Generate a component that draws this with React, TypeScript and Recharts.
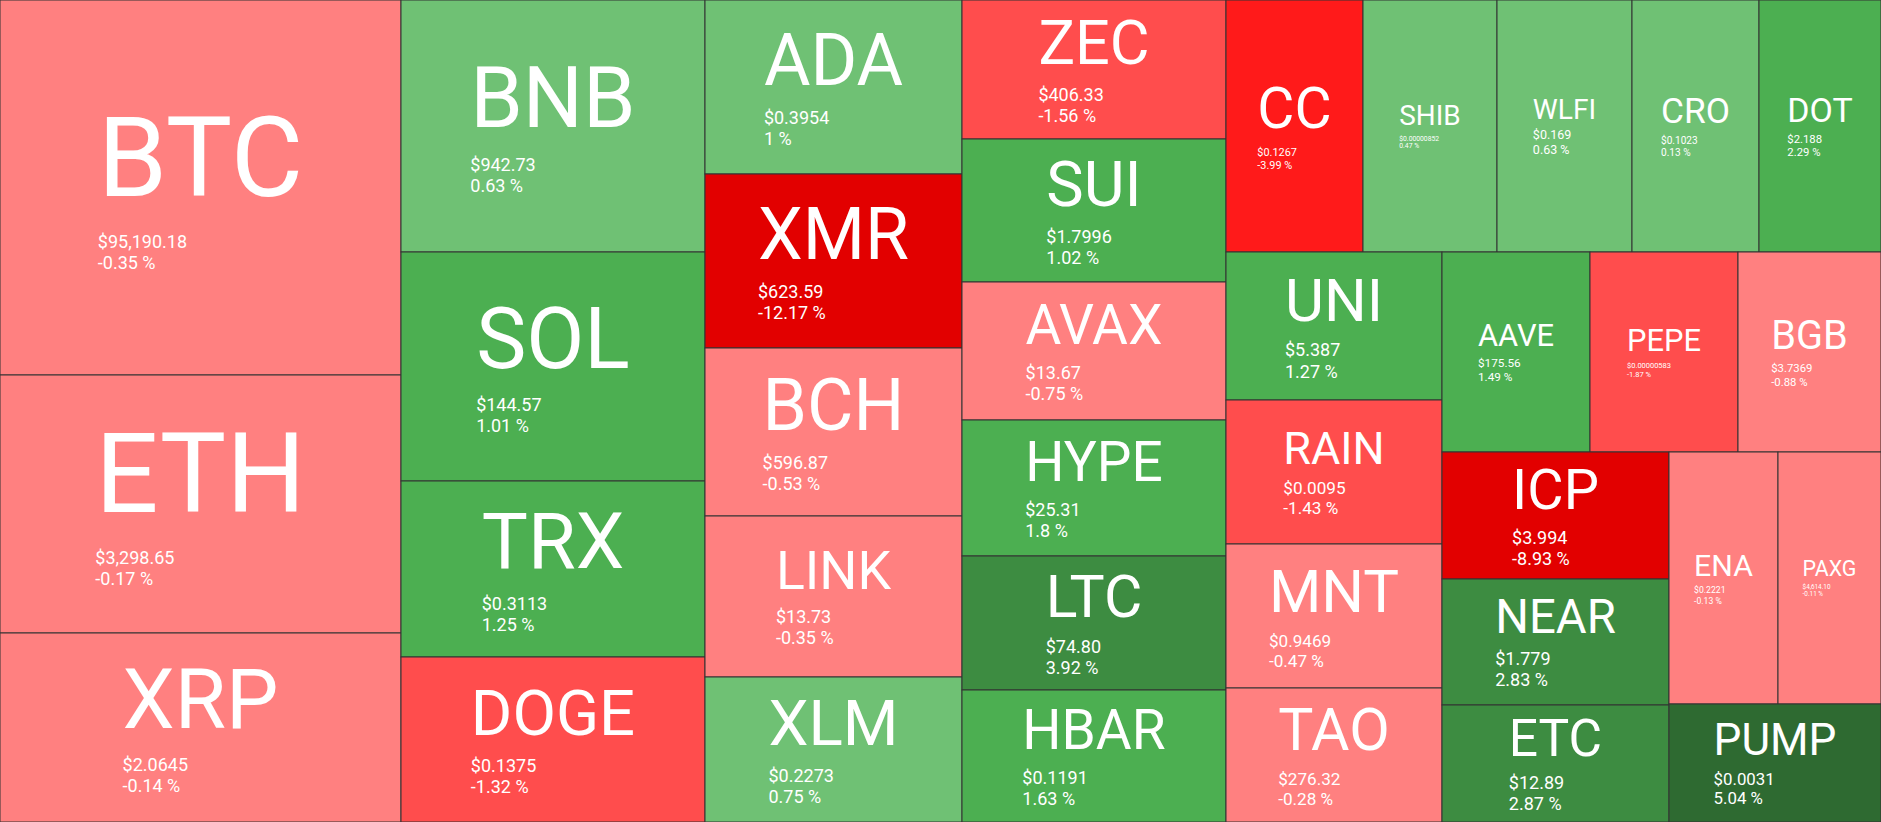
import React from 'react';
import { Treemap } from 'recharts';

const names = ['BTC', 'ETH', 'XRP', 'BNB', 'SOL', 'TRX', 'DOGE', 'ADA', 'XMR', 'BCH', 'LINK', 'XLM', 'ZEC', 'SUI', 'AVAX', 'HYPE', 'LTC', 'HBAR', 'CC', 'SHIB', 'WLFI', 'CRO', 'DOT', 'UNI', 'RAIN', 'MNT', 'TAO', 'AAVE', 'PEPE', 'BGB', 'ICP', 'NEAR', 'ETC', 'ENA', 'PAXG', 'PUMP'];

const sizes = [150375, 103458, 75789, 76608, 69616, 53504, 50160, 44718, 44718, 43176, 41377, 37265, 36700, 37700, 36400, 36000, 35408, 34800, 34524, 33768, 34020, 32004, 30744, 31968, 31104, 31104, 28944, 29600, 29600, 28600, 28829, 28602, 26559, 27468, 25956, 25016];

const prices = ['$95,190.18', '$3,298.65', '$2.0645', '$942.73', '$144.57', '$0.3113', '$0.1375', '$0.3954', '$623.59', '$596.87', '$13.73', '$0.2273', '$406.33', '$1.7996', '$13.67', '$25.31', '$74.80', '$0.1191', '$0.1267', '$0.00000852', '$0.169', '$0.1023', '$2.188', '$5.387', '$0.0095', '$0.9469', '$276.32', '$175.56', '$0.00000583', '$3.7369', '$3.994', '$1.779', '$12.89', '$0.2221', '$4,614.10', '$0.0031'];

const changes = [-0.35, -0.17, -0.14, 0.63, 1.01, 1.25, -1.32, 1, -12.17, -0.53, -0.35, 0.75, -1.56, 1.02, -0.75, 1.8, 3.92, 1.63, -3.99, 0.47, 0.63, 0.13, 2.29, 1.27, -1.43, -0.47, -0.28, 1.49, -1.87, -0.88, -8.93, 2.83, 2.87, -0.13, -0.11, 5.04];

const data = names.map((name, i) => ({ name, size: sizes[i], price: prices[i], change: changes[i] }));

const FONT = 'Roboto';

let measureCtx: CanvasRenderingContext2D | null = null;
function measure(text: string, size: number): number {
  if (!measureCtx) {
    const c = document.createElement('canvas');
    measureCtx = c.getContext('2d');
  }
  if (!measureCtx) return text.length * size * 0.58;
  measureCtx.font = `${size}px ${FONT}`;
  return measureCtx.measureText(text).width;
}

function colorFor(c: number): string {
  if (c >= 5) return '#2E6A31';
  if (c >= 2.5) return '#3D8C41';
  if (c > 1) return '#4CAF51';
  if (c >= 0) return '#6FC174';
  if (c > -1) return '#FF8080';
  if (c > -2.5) return '#FF4D4D';
  if (c > -5) return '#FF1A1A';
  return '#E20000';
}

const Tile = (props: any) => {
  const { x, y, width: w, height: h, depth, name, price, change } = props;
  if (depth !== 1 || !w || !h) return <g />;
  const label = String(name);
  const priceText = String(price);
  const pctText = `${change} %`;
  const f = Math.min(w / (1.2 * label.length), 0.44 * h);
  const pf = Math.min(18, (0.556 * w) / priceText.length);
  const lh = 1.172 * pf;
  const blockH = f * 1.16 + 2 * lh;
  const top = y + (h - blockH) / 2;
  const nameBase = top + 0.842 * f;
  const priceBase = top + 1.16 * f + 0.928 * pf;
  const pctBase = priceBase + lh;
  const blockW = Math.max(measure(label, f), measure(priceText, pf), measure(pctText, pf));
  const left = x + (w - blockW) / 2;
  return (
    <g>
      <rect x={x} y={y} width={w} height={h} fill={colorFor(change)} stroke="#333333" strokeWidth={1} />
      <text x={left} y={nameBase} fill="#ffffff" fontFamily={FONT} fontSize={f} stroke="none">
        {label}
      </text>
      <text x={left} y={priceBase} fill="#ffffff" fontFamily={FONT} fontSize={pf} stroke="none">
        {priceText}
      </text>
      <text x={left} y={pctBase} fill="#ffffff" fontFamily={FONT} fontSize={pf} stroke="none">
        {pctText}
      </text>
    </g>
  );
};

export default function App() {
  return (
    <div style={{ position: 'absolute', left: 0, top: 0, width: 1881, height: 822 }}>
      <Treemap
        width={1881}
        height={822}
        data={data}
        dataKey="size"
        nameKey="name"
        isAnimationActive={false}
        content={(p: any) => <Tile {...p} />}
      />
    </div>
  );
}
